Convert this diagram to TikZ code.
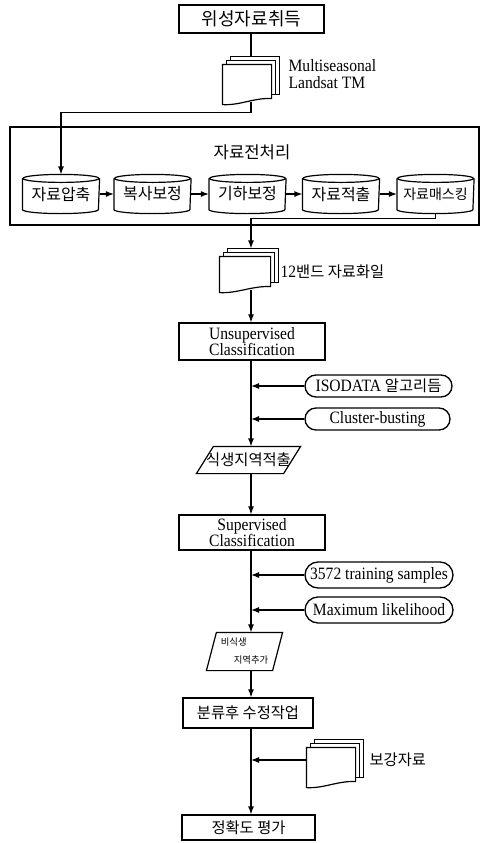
\documentclass[tikz,border=0pt]{standalone}
\usepackage{fontspec}
\setmainfont{Liberation Serif}[FakeStretch=0.9]
\newfontfamily\kr{Noto Sans CJK KR}
\usetikzlibrary{arrows.meta,calc,shapes.misc}

% document stack drawn on an invisible node
\newcommand\docshape[1]{%
  \foreach \k in {2,1}{%
    \draw[fill=white] ($(#1.north west)+(4*\k,-4*\k)$) rectangle ($(#1.south east)+(4*\k,-10)$);
  }
  \draw[fill=white] (#1.south west) -- (#1.north west) -- (#1.north east) -- ($(#1.south east)+(0,-6)$)
     .. controls ($(#1.south east)+(-18,-7)$) and ($(#1.south west)+(18,1)$) .. (#1.south west) -- cycle;
}
% cylinder drawn on an invisible node
\newcommand\cylshape[1]{%
  \draw ($(#1.north)+(0,4)$) ellipse [x radius=28.5pt, y radius=3pt];
  \draw ($(#1.north west)+(0,4)$) -- ($(#1.south west)+(0,-4)$)
     arc [start angle=180, end angle=360, x radius=28.5pt, y radius=3pt]
     -- ($(#1.north east)+(0,4)$);
}
% parallelogram drawn on an invisible node
\newcommand\pgram[2]{%
  \draw (#1.south west) -- ($(#1.north west)+(#2,0)$) -- (#1.north east) -- ($(#1.south east)+(-#2,0)$) -- cycle;
}

\begin{document}
\begin{tikzpicture}[x=0.75pt,y=-0.75pt,line width=0.9pt,
  box/.style={draw,rectangle,inner sep=0pt,line width=1pt},
  cyl/.style={rectangle,inner sep=0pt,minimum width=57pt,minimum height=28.5pt},
  docnode/.style={rectangle,inner sep=0pt},
  stad/.style={draw,rounded rectangle,inner sep=0pt,line width=1pt},
  pgnode/.style={rectangle,inner sep=0pt},
  krtext/.style={font=\kr\fontsize{11.5}{13}\selectfont},
  lattext/.style={font=\fontsize{13}{12.5}\selectfont},
  arr/.style={-{Latex[length=6pt,width=4.5pt]}}]

\useasboundingbox (0,0) rectangle (481,843);
\coordinate (mx) at (251,0);

% top
\node[box,minimum width=108.75pt,minimum height=21pt,font=\kr\fontsize{13.5}{14}\selectfont] (t1) at (251.5,19) {위성자료취득};

\node[docnode,minimum width=36pt,minimum height=29.25pt] (d1) at (247,84.5) {};
\docshape{d1}
\node[lattext,anchor=west,align=left,inner sep=0pt] (m1) at (288,74) {Multiseasonal\\Landsat TM};
\coordinate (d1top) at ($(d1.north)+(8,-8)$);
\coordinate (d1bot) at ($(d1.south)+(4,-3)$);

% preprocessing frame
\node[draw,line width=1pt,rectangle,inner sep=0pt,minimum width=351.75pt,minimum height=73.5pt] (frame) at (244.5,176) {};
\node[font=\kr\fontsize{12.5}{14}\selectfont] (ftitle) at (252,152) {자료전처리};

\node[cyl,font=\kr\fontsize{12}{14}\selectfont] (c1) at (61,194) {\raisebox{-2pt}{자료압축}};
\node[cyl,font=\kr\fontsize{12}{14}\selectfont] (c2) at (152.5,194) {\raisebox{-2pt}{복사보정}};
\node[cyl,font=\kr\fontsize{12}{14}\selectfont] (c3) at (247.5,194) {\raisebox{-2pt}{기하보정}};
\node[cyl,font=\kr\fontsize{12}{14}\selectfont] (c4) at (341,194) {\raisebox{-2pt}{자료적출}};
\node[cyl,font=\kr\fontsize{10.5}{12}\selectfont] (c5) at (435.5,194) {\raisebox{-2pt}{자료매스킹}};
\foreach \c in {c1,c2,c3,c4,c5}{\cylshape{\c}}

\node[docnode,minimum width=37.5pt,minimum height=26.25pt] (d2) at (245,274.5) {};
\docshape{d2}
\node[anchor=west,inner sep=0pt,lattext] (l2) at (280,272) {12{\kr\fontsize{11.5}{13}\selectfont 밴드 자료화일}};
\coordinate (d2top) at ($(d2.north)+(6,-8)$);
\coordinate (d2bot) at ($(d2.south)+(6,-3)$);

% unsupervised
\node[box,align=center,lattext,minimum width=109.5pt,minimum height=27.75pt] (u1) at (252,341.5) {Unsupervised\\Classification};
\node[stad,lattext,minimum width=110.25pt,minimum height=16.5pt] (s1) at (378.5,386) {ISODATA {\kr\fontsize{11.5}{13}\selectfont 알고리듬}};
\node[stad,lattext,minimum width=108.75pt,minimum height=16.5pt] (s2) at (377.5,419) {Cluster-busting};

\node[pgnode,krtext,minimum width=77.25pt,minimum height=19.5pt] (p1) at (248.5,460) {식생지역적출};
\pgram{p1}{17}

% supervised
\node[box,align=center,lattext,minimum width=109.5pt,minimum height=26.25pt] (v1) at (252,532.5) {Supervised\\Classification};
\node[stad,lattext,minimum width=111pt,minimum height=19.5pt] (s3) at (379,575) {3572 training samples};
\node[stad,lattext,minimum width=111pt,minimum height=19.5pt] (s4) at (379,610) {Maximum likelihood};

\node[pgnode,align=left,font=\kr\fontsize{7}{13.5}\selectfont,minimum width=56.25pt,minimum height=27.75pt] (p2) at (244.5,651.5) {비식생\\\hspace{9.75pt}지역추가};
\pgram{p2}{10}

\node[box,krtext,minimum width=97.5pt,minimum height=22.5pt] (w1) at (248,713) {분류후 수정작업};

\node[docnode,minimum width=36pt,minimum height=29.25pt] (d3) at (331,767.5) {};
\docshape{d3}
\node[anchor=west,inner sep=0pt,krtext] (l3) at (369,760) {보강자료};
\coordinate (d3in) at ($(d3.west)+(0,-7.5)$);

\node[box,krtext,minimum width=99.75pt,minimum height=18.75pt] (z1) at (248.5,827.5) {정확도 평가};

% connectors
\draw (t1.south -| mx) -- (d1top -| mx);
\draw[arr] (d1bot) -- ++(0,11) -| (c1.north);
\draw[arr] (c1.east) -- (c2.west);
\draw[arr] (c2.east) -- (c3.west);
\draw[arr] (c3.east) -- (c4.west);
\draw[arr] (c4.east) -- (c5.west);
\draw[arr] (c5.south) -- ++(0,5) -| (d2top);
\draw[arr] (d2bot) -- (u1.north -| mx);
\draw[arr] (u1.south -| mx) -- (p1.north -| mx);
\draw[arr] (s1.west) -- (s1.west -| mx);
\draw[arr] (s2.west) -- (s2.west -| mx);
\draw[arr] (p1.south -| mx) -- (v1.north -| mx);
\draw[arr] (v1.south -| mx) -- (p2.north -| mx);
\draw[arr] (s3.west) -- (s3.west -| mx);
\draw[arr] (s4.west) -- (s4.west -| mx);
\draw[arr] (p2.south -| mx) -- (w1.north -| mx);
\draw[arr] (w1.south -| mx) -- (z1.north -| mx);
\draw[arr] (d3in) -- (d3in -| mx);
\end{tikzpicture}
\end{document}
